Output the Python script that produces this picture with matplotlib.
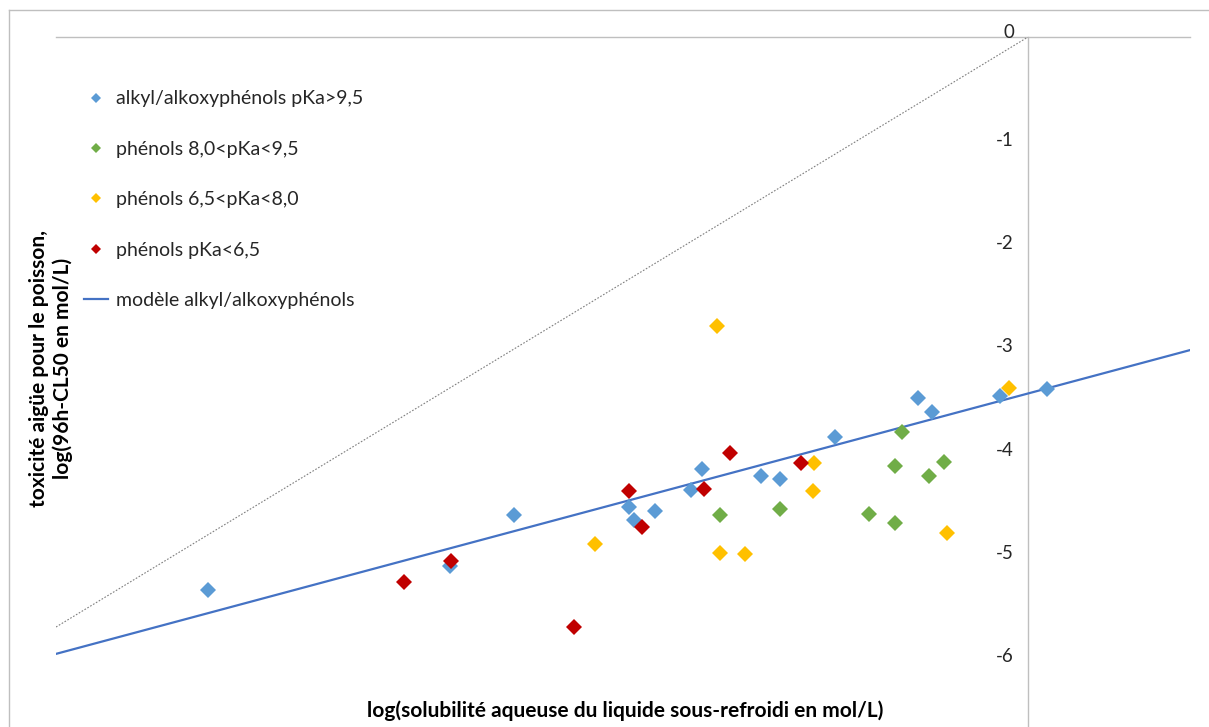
#! /usr/bin/env python

import matplotlib
matplotlib.use('Agg')
import matplotlib.pyplot as plt
from matplotlib.lines import Line2D

plt.rcParams['font.family'] = ['Lato', 'DejaVu Sans']

# log(solubilite) / log(CL50)
alkyl_x = [-5.06, -3.57, -3.17, -2.46, -2.43, -2.30, -2.08, -2.01,
           -1.65, -1.53, -1.19, -0.68, -0.59, -0.17, 0.12]
alkyl_y = [-5.35, -5.12, -4.63, -4.55, -4.67, -4.59, -4.38, -4.18,
           -4.25, -4.28, -3.87, -3.49, -3.63, -3.47, -3.41]

ph_8_95_x = [-1.90, -1.53, -0.78, -0.82, -0.61, -0.52, -0.98, -0.82]
ph_8_95_y = [-4.63, -4.57, -3.82, -4.15, -4.25, -4.11, -4.62, -4.70]

ph_65_8_x = [-1.92, -2.67, -1.90, -1.75, -1.32, -1.33, -0.50, -0.12]
ph_65_8_y = [-2.80, -4.91, -4.99, -5.00, -4.12, -4.39, -4.80, -3.40]

ph_65_x = [-3.85, -3.56, -2.80, -2.46, -2.38, -2.00, -1.84, -1.40]
ph_65_y = [-5.27, -5.07, -5.71, -4.39, -4.74, -4.37, -4.03, -4.12]

# model line and dotted reference line (end points)
modele_x = [-6.0, 1.0]
modele_y = [-5.97, -3.03]
ref_x = [-6.0, 0.0]
ref_y = [-5.71, 0.0]

yticks = [0, -1, -2, -3, -4, -5, -6]

fig = plt.figure(figsize=(12.09, 7.27), dpi=100)
ax = fig.add_axes([56 / 1209, 0.0, (1190 - 56) / 1209, 1 - 37 / 727])
ax.set_xlim(-6, 1)
ax.set_ylim(-(727 - 37) / 103.33, 0)
ax.axis('off')

# chart area border (cropped on right and bottom)
fig.add_artist(Line2D([9 / 1209, 1], [1 - 10 / 727] * 2, color='#bfbfbf', lw=1))
fig.add_artist(Line2D([9 / 1209] * 2, [0, 1 - 10 / 727], color='#bfbfbf', lw=1))

# axes crossing at (0, 0)
ax.axhline(0, color='#bfbfbf', lw=1, zorder=1, clip_on=False)
ax.axvline(0, color='#bfbfbf', lw=1, zorder=1, clip_on=False)
for v in yticks:
	ax.annotate(str(v), (0, v), xytext=(-10, 3 if v == 0 else 0),
	            textcoords='offset points', ha='right', va='center',
	            fontsize=13.5, color='#262626', annotation_clip=False)

ax.plot(ref_x, ref_y, color='#7f7f7f', lw=0.8, linestyle=(0, (1.5, 1.5)), zorder=2)

ms = 8
ax.plot(alkyl_x, alkyl_y, 'D', color='#5b9bd5', ms=ms, mew=0,
        label='alkyl/alkoxyphénols pKa>9,5', zorder=4)
ax.plot(ph_8_95_x, ph_8_95_y, 'D', color='#70ad47', ms=ms, mew=0,
        label='phénols 8,0<pKa<9,5', zorder=4)
ax.plot(ph_65_8_x, ph_65_8_y, 'D', color='#ffc000', ms=ms, mew=0,
        label='phénols 6,5<pKa<8,0', zorder=4)
ax.plot(ph_65_x, ph_65_y, 'D', color='#c00000', ms=ms, mew=0,
        label='phénols pKa<6,5', zorder=4)
ax.plot(modele_x, modele_y, color='#4472c4', lw=1.6,
        label='modèle alkyl/alkoxyphénols', zorder=3)

leg = ax.legend(loc='upper left', bbox_to_anchor=(0.0095, 0.948), frameon=False,
                fontsize=14, labelspacing=1.72, handlelength=1.2,
                handletextpad=0.45, markerscale=0.7)
for t in leg.get_texts():
	t.set_color('#262626')

fig.text(625 / 1209, 1 - 711 / 727,
         'log(solubilité aqueuse du liquide sous-refroidi en mol/L)',
         ha='center', va='center', fontsize=15, fontweight='bold')
fig.text(51 / 1209, 1 - 368 / 727,
         'toxicité aigüe pour le poisson,\nlog(96h-CL50 en mol/L)',
         ha='center', va='center', rotation=90, fontsize=15,
         fontweight='bold', linespacing=1.15)

plt.savefig('out.png', dpi=100)
